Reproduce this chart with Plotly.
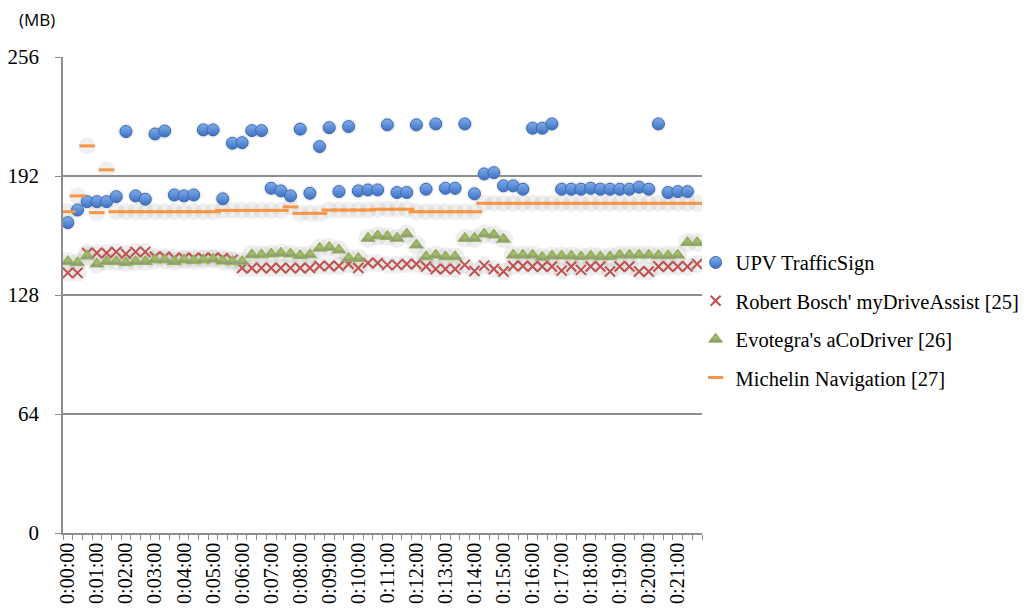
import plotly.graph_objects as go

# 66 samples, one every 20 seconds
times = [f"0:{s // 60:02d}:{s % 60:02d}" for s in range(0, 1320, 20)]
tick_labels = [t if i % 3 == 0 else "" for i, t in enumerate(times)]

upv = [166.9, 173.7, 178.2, 178.2, 178.2, 180.9, 215.9, 181.3, 179.5, 214.6,
       216.2, 181.8, 181.3, 181.8, 216.8, 216.8, 179.7, 209.6, 209.9, 216.4,
       216.4, 185.4, 184.0, 181.3, 217.2, 182.7, 207.8, 218.0, 183.6, 218.6,
       184.0, 184.5, 184.5, 219.5, 183.1, 183.1, 219.5, 184.9, 220.0, 185.4,
       185.4, 220.0, 182.4, 193.1, 193.8, 186.7, 186.7, 184.9, 217.7, 217.7,
       220.0, 184.9, 184.9, 184.9, 185.4, 184.9, 184.9, 184.9, 184.9, 186.0,
       184.9, 220.0, 183.1, 183.6, 183.6, None]

bosch = [139.9, 139.9, 150.6, 150.6, 150.6, 151.2, 150.1, 151.2, 151.2, 148.6,
         148.6, 147.9, 147.9, 147.9, 147.9, 147.9, 147.9, 146.9, 142.5, 142.5,
         142.5, 142.5, 142.5, 142.5, 142.5, 142.5, 143.6, 143.6, 143.6, 144.7,
         142.5, 145.2, 145.2, 144.2, 144.2, 144.7, 144.7, 143.3, 142.0, 142.0,
         142.0, 144.2, 140.9, 143.8, 142.0, 140.6, 143.6, 143.6, 143.3, 143.3,
         143.3, 141.1, 143.3, 141.5, 143.3, 143.3, 140.6, 143.3, 143.3, 140.6,
         140.6, 143.3, 143.3, 143.3, 143.3, 144.7]

evotegra = [146.0, 145.4, 149.0, 144.7, 146.0, 146.0, 145.4, 146.0, 146.0, 146.9,
            146.9, 146.0, 146.9, 146.5, 146.9, 147.3, 146.3, 146.0, 146.0, 149.6,
            149.6, 150.1, 150.5, 150.1, 149.2, 149.6, 153.2, 153.7, 152.2, 147.7,
            147.7, 158.5, 159.8, 159.5, 158.5, 160.8, 154.9, 148.6, 149.5, 148.6,
            148.6, 158.5, 158.5, 160.8, 160.3, 158.0, 149.5, 149.5, 149.5, 148.3,
            149.0, 149.0, 149.0, 148.6, 149.0, 148.6, 148.6, 149.5, 149.5, 149.5,
            149.5, 149.2, 149.2, 149.5, 156.2, 156.2]

michelin = [172.8, 181.3, 208.2, 172.3, 195.3, 172.8, 172.8, 172.8, 172.8, 172.8,
            172.8, 172.8, 172.8, 172.8, 172.8, 172.8, 173.5, 173.5, 173.5, 173.5,
            173.5, 173.5, 173.5, 175.4, 171.9, 171.9, 171.9, 173.7, 173.7, 173.7,
            173.7, 173.7, 174.1, 174.1, 174.1, 174.1, 172.8, 172.8, 172.8, 172.8,
            172.8, 172.8, 172.8, 177.3, 177.3, 177.3, 177.3, 177.3, 177.3, 177.3,
            177.3, 177.3, 177.3, 177.3, 177.3, 177.3, 177.3, 177.3, 177.3, 177.3,
            177.3, 177.3, 177.3, 177.3, 177.3, 177.3]

y_ticks = [0, 64, 128, 192, 256]

SERIF = "Liberation Serif"
GRID = "#8e8e8e"

fig = go.Figure()

# soft grey halos (shadow/glow effect of the original)
for vals, sz in [(upv, 16), (bosch, 18), (evotegra, 19), (michelin, 17)]:
    fig.add_trace(go.Scatter(
        x=times, y=vals, mode="markers", showlegend=False, hoverinfo="skip",
        marker=dict(symbol="circle", size=sz, color="rgba(165,165,165,0.18)",
                    line=dict(width=0))))

fig.add_trace(go.Scatter(
    x=times, y=upv, mode="markers", name="UPV TrafficSign",
    legendgroup="a",
    marker=dict(symbol="circle", size=12, color="#80adec",
                gradient=dict(type="vertical", color="#3d70c2"),
                line=dict(color="#3a68b0", width=1))))

fig.add_trace(go.Scatter(
    x=times, y=bosch, mode="markers", name="Robert Bosch' myDriveAssist [25]",
    legendgroup="b",
    marker=dict(symbol="x-thin", size=10, color="#C0504D",
                line=dict(color="#C0504D", width=2))))

fig.add_trace(go.Scatter(
    x=times, y=evotegra, mode="markers", name="Evotegra's aCoDriver [26]",
    legendgroup="c",
    marker=dict(symbol="triangle-up", size=12, color="#8e917f",
                gradient=dict(type="radial", color="#a3c45e"),
                line=dict(color="#93b650", width=1))))

fig.add_trace(go.Scatter(
    x=times, y=michelin, mode="markers", name="Michelin Navigation [27]",
    legendgroup="d",
    marker=dict(symbol="line-ew", size=11, color="#F79646",
                line=dict(color="#F79646", width=3))))

# the page body adds an 8px offset, so margins are shifted by 8px;
# the figure is a little wider than the window so the legend never pushes the margin
fig.update_layout(
    width=1034, height=606, autosize=False,
    margin=dict(l=54.5, r=340.3, t=49, b=81),
    paper_bgcolor="white", plot_bgcolor="white",
    font=dict(family=SERIF, size=19, color="#000000"),
    showlegend=True,
    legend=dict(x=0.99, xanchor="left", y=0.61, yanchor="top",
                bgcolor="rgba(0,0,0,0)", tracegroupgap=8.7,
                traceorder="grouped", itemwidth=30,
                font=dict(family=SERIF, size=20.5, color="#000000")),
    xaxis=dict(type="category", categoryorder="array", categoryarray=times,
               range=[-0.5, 65.5], tickmode="array", tickvals=times,
               ticktext=tick_labels, tickson="boundaries", ticks="outside",
               ticklen=5, tickcolor=GRID, tickwidth=1, showline=True,
               linecolor=GRID, linewidth=1.5, showgrid=False, automargin=False,
               tickangle=-90, tickfont=dict(family=SERIF, size=20)),
    yaxis=dict(range=[0, 256], tickmode="array", tickvals=y_ticks,
               ticks="outside", ticklen=6, tickcolor=GRID, showline=True,
               linecolor=GRID, linewidth=1.5, showgrid=True, gridcolor=GRID,
               gridwidth=1.5, zeroline=False, ticklabelstandoff=12,
               automargin=False, tickfont=dict(family=SERIF, size=21)),
    annotations=[dict(text="(MB)", xref="paper", yref="paper",
                      x=-0.04, y=1.078, xanchor="center", yanchor="middle",
                      showarrow=False,
                      font=dict(family="Open Sans", size=17, color="#000000"))],
)

fig.write_html("out.html")
